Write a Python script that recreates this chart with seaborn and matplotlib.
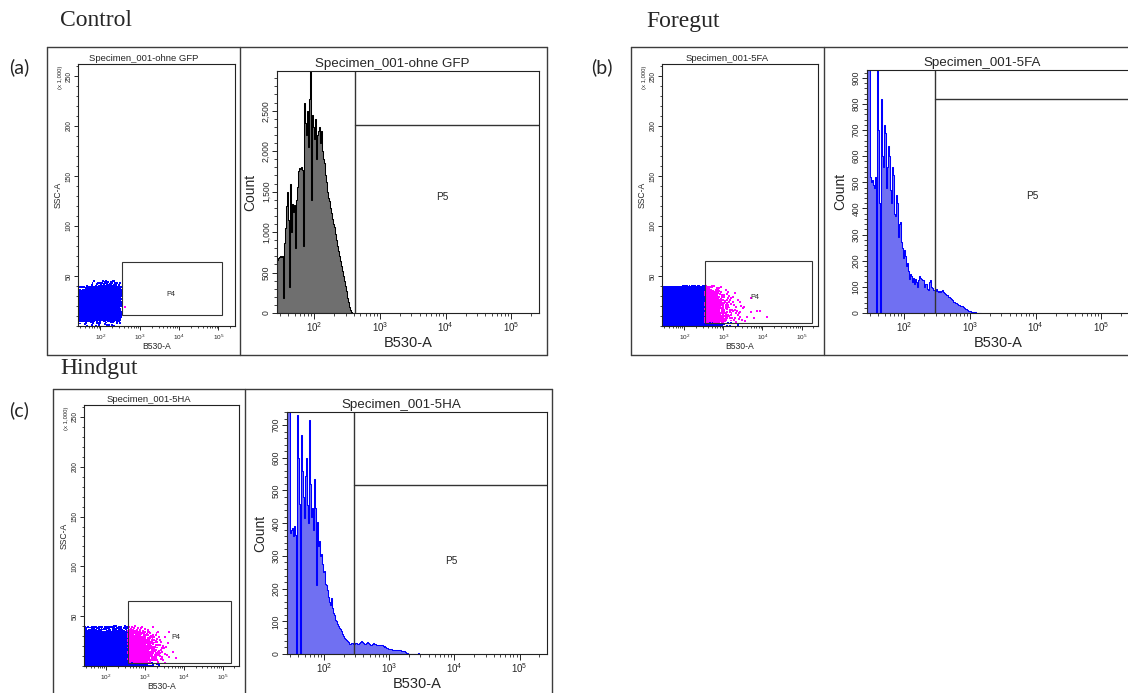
import numpy as np
import pandas as pd
import seaborn as sns
import matplotlib
matplotlib.use("Agg")
import matplotlib.pyplot as plt
from matplotlib.lines import Line2D
from matplotlib.patches import Rectangle
from matplotlib.ticker import (LogLocator, FixedLocator, MultipleLocator,
                               FuncFormatter, LogFormatterMathtext, NullFormatter)

# ---------------------------------------------------------------- data
# Log10 display range of the B530-A axis and histogram bin width (decades)
X_LOG_MIN, X_LOG_MAX = 1.43, 5.42
BIN_LOG = 1 / 65.5

# Histogram counts per bin, starting at the left edge of the B530-A axis
HIST_CONTROL = [
    660, 680, 690, 700, 690, 710, 180, 860, 1050, 1320, 1500, 1150, 320,
    1600, 1000, 1350, 1250, 1330, 800, 1400, 1560, 1760, 1790, 1780, 1800, 1770,
    830, 2600, 2350, 2200, 2500, 2050, 2650, 3000, 1400, 2450, 2300, 2150, 2400, 1900,
    2200, 2250, 2300, 2100, 2250, 2000, 1900, 1850, 1700, 1620,
    1500, 1420, 1380, 1300, 1230, 1160, 1100, 1060, 980, 900,
    830, 760, 700, 640, 580, 520, 460, 390, 330, 270,
    180, 130, 80, 40, 15, 0,
]
HIST_FOREGUT = [
    1000, 1000, 1000, 520, 500, 510, 490, 480, 520, 0, 930, 700, 420, 0,
    820, 600, 560, 720, 690, 480, 560, 640, 600, 470, 420, 560, 530, 380, 370,
    450, 420, 290, 340, 350, 270, 250, 210, 240, 220, 180, 190, 160, 130, 150,
    140, 120, 135, 110, 130, 120, 100, 125, 140, 135, 130, 125, 128, 100, 110,
    112, 90, 88, 120, 125, 100, 95, 88, 87, 86, 90, 85, 82, 84, 80, 85, 88, 80,
    75, 72, 70, 68, 62, 60, 56, 52, 48, 44, 42, 40, 38, 36, 32, 30, 28, 27, 26,
    24, 20, 17, 14, 12, 9, 7, 6, 4, 3, 3, 2, 2, 1, 1, 1, 0, 0,
]
HIST_HINDGUT = [
    800, 800, 800, 370, 380, 385, 360, 390, 365, 0, 730, 600, 460, 0,
    670, 560, 480, 415, 545, 600, 455, 400, 715, 520, 420, 445, 380, 535, 445,
    210, 405, 330, 345, 300, 305, 275, 250, 255, 215, 212, 195, 175, 160, 150,
    170, 140, 125, 120, 105, 100, 92, 85, 80, 75, 70, 62, 55, 50, 45, 42, 40,
    36, 32, 30, 33, 34, 32, 30, 33, 35, 32, 30, 34, 38, 40, 36, 33, 31, 30, 35,
    36, 33, 30, 28, 29, 31, 33, 32, 30, 28, 26, 28, 27, 26, 28, 26, 24, 22, 23,
    20, 18, 18, 16, 15, 15, 14, 13, 13, 13, 12, 13, 13, 12, 11, 11, 10, 9, 8, 8,
    6, 4, 3, 0, 0, 0, 0, 0, 0, 0, 0, 0, 0, 3,
]

# Event counts per cell of the B530-A (log10, 0.1-decade columns) x SSC-A
# (5 x 1,000 rows) grid; rows listed from SSC-A 0-5 upwards
DOT_X_STEP, DOT_Y_STEP = 0.1, 5
DOTS_CONTROL = [
    [1, 2, 2, 3, 3, 3, 3, 3, 3, 2, 1, 0],
    [24, 26, 28, 28, 28, 28, 28, 28, 28, 24, 12, 0],
    [30, 30, 30, 30, 30, 30, 30, 30, 30, 30, 15, 0],
    [30, 30, 30, 30, 30, 30, 30, 30, 30, 30, 15, 1],
    [30, 30, 30, 30, 30, 30, 30, 30, 30, 30, 15, 0],
    [30, 30, 30, 30, 30, 30, 30, 30, 30, 30, 15, 1],
    [20, 24, 28, 30, 30, 30, 30, 30, 30, 28, 12, 0],
    [4, 6, 10, 14, 18, 22, 24, 24, 24, 20, 8, 0],
    [0, 0, 1, 2, 3, 4, 5, 6, 6, 5, 2, 0],
]
DOTS_FOREGUT = [
    [18] * 11 + [18, 14, 10, 7, 5, 3, 2, 1, 1, 0, 1, 0, 0, 0, 0, 0],
    [30] * 11 + [30, 22, 15, 10, 7, 5, 4, 2, 2, 1, 1, 0, 1, 0, 0, 1],
    [30] * 11 + [30, 22, 15, 10, 7, 5, 3, 2, 2, 1, 0, 1, 0, 0, 1, 0],
    [30] * 11 + [28, 20, 14, 9, 6, 4, 3, 2, 1, 1, 1, 0, 0, 1, 0, 0],
    [30] * 11 + [26, 18, 12, 8, 5, 4, 2, 2, 1, 1, 0, 0, 0, 0, 0, 0],
    [30] * 11 + [24, 15, 10, 6, 4, 3, 2, 1, 1, 0, 0, 1, 0, 0, 0, 0],
    [30] * 11 + [20, 12, 8, 5, 3, 2, 1, 1, 0, 0, 0, 0, 0, 0, 0, 0],
    [14] * 11 + [8, 5, 3, 2, 1, 1, 0, 0, 0, 0, 0, 0, 0, 0, 0, 0],
]
DOTS_HINDGUT = [
    [16] * 11 + [16, 16, 14, 12, 9, 6, 4, 2, 1, 1, 0, 0, 0, 0, 0, 0],
    [30] * 11 + [28, 26, 24, 20, 16, 12, 8, 5, 3, 2, 1, 0, 1, 0, 0, 0],
    [30] * 11 + [28, 26, 24, 20, 16, 12, 8, 5, 3, 2, 1, 1, 0, 0, 0, 0],
    [30] * 11 + [26, 24, 22, 18, 14, 10, 7, 4, 3, 1, 1, 0, 0, 0, 0, 0],
    [30] * 11 + [24, 22, 20, 16, 12, 9, 6, 4, 2, 1, 1, 0, 0, 0, 0, 0],
    [28] * 11 + [20, 18, 16, 13, 10, 7, 5, 3, 2, 1, 0, 0, 0, 0, 0, 0],
    [22] * 11 + [14, 12, 10, 8, 6, 4, 3, 2, 1, 0, 1, 0, 0, 0, 0, 0],
    [6] * 11 + [4, 4, 3, 2, 2, 1, 1, 0, 0, 0, 0, 0, 0, 0, 0, 0],
]

# Gates: P4 rectangle (B530-A range, SSC-A range x 1,000) and P5 marker
P4_CONTROL = ([355, 120000], [11, 64])
P4_FOREGUT = ([340, 180000], [3, 65])
P4_HINDGUT = ([355, 160000], [3, 65])
P5_CONTROL = (410, 2318)
P5_FOREGUT = (288, 818)
P5_HINDGUT = (289, 517)

SPECIMENS = ["Specimen_001-ohne GFP", "Specimen_001-5FA", "Specimen_001-5HA"]
GROUPS = ["Control", "Foregut", "Hindgut"]
PANEL_TAGS = ["(a)", "(b)", "(c)"]

# ---------------------------------------------------------------- style
W, H = 1128, 693
sns.set_theme(style="ticks")
plt.rcParams["font.family"] = ["Liberation Sans", "DejaVu Sans"]
plt.rcParams["mathtext.fontset"] = "custom"
plt.rcParams["mathtext.rm"] = "Liberation Sans"
plt.rcParams["mathtext.default"] = "regular"
plt.rcParams["axes.linewidth"] = 0.8
plt.rcParams["axes.edgecolor"] = "#222222"

BLUE, MAGENTA = "#0000ff", "#ff00ff"
FRAME = "#3c3c3c"

fig = plt.figure(figsize=(W / 100, H / 100), dpi=100)


def axes_px(left, top, right, bottom):
    return fig.add_axes([left / W, 1 - bottom / H, (right - left) / W, (bottom - top) / H])


def fig_line(x0, y0, x1, y1):
    fig.add_artist(Line2D([x0 / W, x1 / W], [1 - y0 / H, 1 - y1 / H],
                          transform=fig.transFigure, color=FRAME, lw=1.0))


def panel_frame(left, top, right, bottom, divider):
    fig_line(left, top, right, top)
    fig_line(left, bottom, right, bottom)
    fig_line(left, top, left, bottom)
    fig_line(right, top, right, bottom)
    fig_line(divider, top, divider, bottom)


def cloud_frame(grid, gate):
    """Spread each cell's events evenly over the cell (R2 sequence)."""
    xs, ys = [], []
    for r, row in enumerate(grid):
        for c, n in enumerate(row):
            if n == 0:
                continue
            k = np.arange(n)
            phase = (r * 0.61803398875 + c * 0.41421356237) % 1.0
            u = (0.5 + phase + k * 0.75487766625) % 1.0
            v = (0.5 + 0.7 * phase + k * 0.56984029100) % 1.0
            xs.append(10 ** (X_LOG_MIN + (c + u) * DOT_X_STEP))
            ys.append((r + v) * DOT_Y_STEP)
    x = np.concatenate(xs)
    y = np.concatenate(ys)
    (gx0, gx1), (gy0, gy1) = gate
    inside = (x >= gx0) & (x <= gx1) & (y >= gy0) & (y <= gy1)
    return pd.DataFrame({"B530-A": x, "SSC-A": y,
                         "gate": np.where(inside, "P4", "rest")})


def log_x_axis(ax, labelsize, length):
    ax.set_xscale("log")
    ax.set_xlim(10 ** X_LOG_MIN, 10 ** X_LOG_MAX)
    ax.xaxis.set_major_locator(FixedLocator([1e2, 1e3, 1e4, 1e5]))
    ax.xaxis.set_major_formatter(LogFormatterMathtext())
    ax.xaxis.set_minor_locator(LogLocator(base=10, subs=np.arange(2, 10), numticks=20))
    ax.xaxis.set_minor_formatter(NullFormatter())
    ax.tick_params(axis="x", which="major", labelsize=labelsize, length=length,
                   width=0.7, pad=1.5, direction="out")
    ax.tick_params(axis="x", which="minor", length=length * 0.6, width=0.6,
                   direction="out")


def draw_dotplot(box, grid, gate, title):
    ax = axes_px(*box)
    df = cloud_frame(grid, gate)
    sns.scatterplot(data=df, x="B530-A", y="SSC-A", hue="gate",
                    palette={"rest": BLUE, "P4": MAGENTA}, hue_order=["rest", "P4"],
                    s=2.0, marker="s", linewidth=0, legend=False, ax=ax)
    log_x_axis(ax, 4.6, 3)
    ax.set_ylim(0, 262)
    ax.yaxis.set_major_locator(FixedLocator([50, 100, 150, 200, 250]))
    ax.yaxis.set_minor_locator(MultipleLocator(10))
    ax.tick_params(axis="y", which="major", labelsize=4.8, length=3, width=0.7,
                   pad=1, labelrotation=90)
    ax.tick_params(axis="y", which="minor", length=1.8, width=0.6)
    for lab in ax.get_yticklabels():
        lab.set_va("center")
    ax.set_xlabel("B530-A", fontsize=6.2, labelpad=0.5)
    ax.set_ylabel("SSC-A", fontsize=6.2, labelpad=2)
    ax.text(-0.11, 0.95, "(x 1,000)", transform=ax.transAxes, rotation=90,
            fontsize=4.2, ha="center", va="center")
    ax.text(0.42, 1.004, title, transform=ax.transAxes, ha="center", va="bottom",
            fontsize=6.8)
    (gx0, gx1), (gy0, gy1) = gate
    ax.add_patch(Rectangle((gx0, gy0), gx1 - gx0, gy1 - gy0, fill=False,
                           edgecolor="#333333", lw=0.8))
    ax.text(10 ** 3.8, gy0 + 0.38 * (gy1 - gy0) + (gy0 < 5) * 2, "P4",
            fontsize=5.2, ha="center", va="center")
    for s in ax.spines.values():
        s.set_visible(True)
    return ax


def draw_histogram(box, counts, face, edge, ymax, ymajor, yminor, marker, title):
    ax = axes_px(*box)
    n = len(counts)
    lo = X_LOG_MIN
    hi = X_LOG_MIN + n * BIN_LOG
    centers = 10 ** (lo + BIN_LOG * (np.arange(n) + 0.5))
    sns.histplot(x=centers, weights=counts, log_scale=True, bins=n,
                 binrange=(lo, hi), element="step", fill=True, color=face,
                 facecolor=face, edgecolor=edge, linewidth=0.75, alpha=1, ax=ax)
    log_x_axis(ax, 7, 4)
    ax.set_ylim(0, ymax)
    ax.yaxis.set_major_locator(MultipleLocator(ymajor))
    ax.yaxis.set_minor_locator(MultipleLocator(yminor))
    ax.yaxis.set_major_formatter(FuncFormatter(lambda v, p: f"{v:,.0f}"))
    ax.tick_params(axis="y", which="major", labelsize=6.2, length=3.5, width=0.7,
                   pad=1, labelrotation=90)
    ax.tick_params(axis="y", which="minor", length=2, width=0.6)
    for lab in ax.get_yticklabels():
        lab.set_va("center")
    ax.set_xlabel("B530-A", fontsize=10.5, labelpad=1)
    ax.set_ylabel("Count", fontsize=10, labelpad=3)
    ax.text(0.44, 1.004, title, transform=ax.transAxes, ha="center", va="bottom",
            fontsize=9.6)
    gx, gy = marker
    ax.axvline(gx, color="#333333", lw=1.0)
    ax.plot([gx, 10 ** X_LOG_MAX], [gy, gy], color="#333333", lw=1.0)
    ax.text(10 ** 3.95, gy * 0.55 if gy < ymax * 0.7 else ymax * 0.48, "P5",
            fontsize=7.2, ha="center", va="center")
    for s in ax.spines.values():
        s.set_visible(True)
    return ax


# ---------------------------------------------------------------- panels
GRAY_FILL, BLUE_FILL = "#6f6f6f", "#7070f2"

panel_frame(47, 47, 547, 355, 240)
draw_dotplot((78, 64, 235, 326), DOTS_CONTROL, P4_CONTROL, SPECIMENS[0])
draw_histogram((277, 71, 539, 313), HIST_CONTROL, GRAY_FILL, "#000000",
               2990, 500, 100, P5_CONTROL, SPECIMENS[0])

panel_frame(631, 47, 1140, 355, 824)
draw_dotplot((662, 64, 818, 326), DOTS_FOREGUT, P4_FOREGUT, SPECIMENS[1])
draw_histogram((867, 70, 1129, 313), HIST_FOREGUT, BLUE_FILL, BLUE,
               930, 100, 20, P5_FOREGUT, SPECIMENS[1])

panel_frame(53, 389, 552, 705, 245)
draw_dotplot((84, 405, 239, 666), DOTS_HINDGUT, P4_HINDGUT, SPECIMENS[2])
draw_histogram((287, 412, 547, 654), HIST_HINDGUT, BLUE_FILL, BLUE,
               740, 100, 20, P5_HINDGUT, SPECIMENS[2])

# Group headings and panel tags
for label, (x, y) in zip(GROUPS, [(60, 21), (646, 22), (60, 368)]):
    fig.text(x / W, 1 - y / H, label, family=["Liberation Serif", "DejaVu Serif"],
             fontsize=17, ha="left", va="center")
for tag, (x, y) in zip(PANEL_TAGS, [(9, 67), (591, 67), (9, 410)]):
    fig.text(x / W, 1 - y / H, tag, family=["Lato", "DejaVu Sans"],
             fontsize=14, ha="left", va="center")

fig.savefig("out.png", dpi=100)
